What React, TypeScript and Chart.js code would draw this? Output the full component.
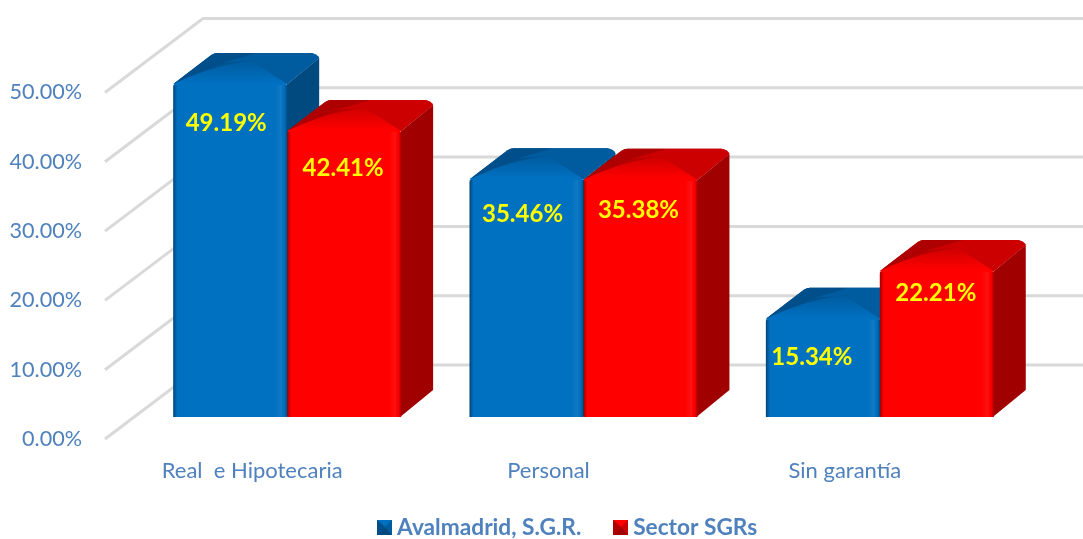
import React, { useEffect, useRef } from "react";
import { Chart, registerables } from "chart.js";

Chart.register(...registerables);

const categories = ["Real  e Hipotecaria", "Personal", "Sin garantía"];
const seriesNames = ["Avalmadrid, S.G.R.", "Sector SGRs"];
const avalmadrid = [49.19, 35.46, 15.34];
const sector = [42.41, 35.38, 22.21];

const FONT = "Lato, 'Noto Sans', sans-serif";
const TEXT = "#4f81bd";

const palettes = [
  { front: "#0070c0", side: "#004a80", left: "#004e8a", back: "#00528f", right: "#005c9f", tip: "#005c9f" },
  { front: "#ff0000", side: "#a00000", left: "#ae0000", back: "#b80000", right: "#cc0000", tip: "#cf0000" },
];

// placement tweaks for the value labels, relative to each bar's top
const labelNudgeX = [[-4, -4, -11], [-1, -2, -1]];
const labelNudgeY = [[40, 36, 40], [38, 31, 23]];

function marker(p: (typeof palettes)[number]) {
  const c = document.createElement("canvas");
  c.width = 15;
  c.height = 15;
  const g = c.getContext("2d")!;
  const tri = (col: string, pts: number[][]) => {
    g.fillStyle = col;
    g.beginPath();
    pts.forEach(([x, y], i) => (i ? g.lineTo(x, y) : g.moveTo(x, y)));
    g.closePath();
    g.fill();
  };
  g.fillStyle = p.front;
  g.fillRect(0, 0, 15, 15);
  tri(p.right, [[15, 0], [15, 15], [8, 7]]);
  tri(p.side, [[0, 15], [15, 15], [8, 7]]);
  tri(p.left, [[0, 0], [0, 15], [8, 7]]);
  return c;
}

const DX = 32;
const DY = 27;

const depthPlugin = {
  id: "depth",
  beforeLayout(chart: any) {
    const l = chart.legend;
    if (l && !l._noRoom) {
      // the legend is placed by hand below, so it takes no room from the axes
      const fit = l.fit;
      l.fit = function () {
        fit.call(this);
        this.height = 0;
      };
      l._noRoom = true;
    }
  },
  afterLayout(chart: any) {
    const l = chart.legend;
    if (!l) return;
    l.left = 345.25;
    l.right = 345.25 + 1083;
    l.top = 478;
    l.bottom = 539;
  },
  beforeDatasetsDraw(chart: any) {
    const { ctx, scales } = chart;
    ctx.save();
    ctx.strokeStyle = "#d9d9d9";
    ctx.lineWidth = 3;
    ctx.lineJoin = "miter";
    for (const t of scales.y.ticks) {
      const p = scales.y.getPixelForValue(t.value);
      ctx.beginPath();
      ctx.moveTo(105, p + 15);
      ctx.lineTo(203, p - 59);
      ctx.lineTo(1083, p - 59);
      ctx.stroke();
    }
    const bars: any[] = [];
    chart.data.datasets.forEach((_: any, d: number) => {
      chart.getDatasetMeta(d).data.forEach((el: any) => bars.push({ el, p: palettes[d] }));
    });
    bars.sort((a, b) => a.el.x - b.el.x);
    for (const { el, p } of bars) {
      const x0 = el.x - el.width / 2;
      const x1 = el.x + el.width / 2;
      const y = el.y;
      const b = el.base;
      // side face
      ctx.fillStyle = p.side;
      ctx.beginPath();
      ctx.moveTo(x1 - 1, y + 2);
      ctx.lineTo(x1 + DX, y - DY + 2);
      ctx.lineTo(x1 + DX, b - DY);
      ctx.lineTo(x1 - 1, b);
      ctx.closePath();
      ctx.fill();
      // top face with its peaked bevel
      ctx.save();
      ctx.beginPath();
      ctx.moveTo(x0, y + 1);
      ctx.lineTo(x0 + 38, y - 28);
      ctx.quadraticCurveTo(x0 + 41, y - 30, x0 + 44, y - 30);
      ctx.lineTo(x1 + 24, y - 30);
      ctx.quadraticCurveTo(x1 + 30, y - 29, x1 + DX, y - 25);
      ctx.lineTo(x1, y + 1);
      ctx.closePath();
      ctx.clip();
      ctx.fillStyle = p.back;
      ctx.fillRect(x0 - 2, y - 32, el.width + DX + 4, 36);
      const ax = x0 + 0.69 * el.width;
      const ay = y - 22;
      ctx.fillStyle = p.left;
      ctx.beginPath();
      ctx.moveTo(x0, y + 1);
      ctx.lineTo(x0 + 40, y - 32);
      ctx.lineTo(x0 + 90, y - 32);
      ctx.lineTo(ax - 30, y - 20);
      ctx.closePath();
      ctx.fill();
      ctx.fillStyle = p.right;
      ctx.beginPath();
      ctx.moveTo(ax - 30, y - 20);
      ctx.lineTo(x0 + 90, y - 32);
      ctx.lineTo(x1 + DX + 1, y - 31);
      ctx.lineTo(x1 + DX + 1, y - 20);
      ctx.lineTo(x1, y + 2);
      ctx.lineTo(ax, ay);
      ctx.closePath();
      ctx.fill();
      const g = ctx.createLinearGradient(0, ay, 0, y);
      g.addColorStop(0, p.tip);
      g.addColorStop(1, p.front);
      ctx.fillStyle = g;
      ctx.beginPath();
      ctx.moveTo(x0, y + 1);
      ctx.quadraticCurveTo(x0 + 42, ay + 3, ax, ay);
      ctx.lineTo(x1, y + 1);
      ctx.closePath();
      ctx.fill();
      ctx.restore();
    }
    ctx.restore();
  },
  afterDatasetsDraw(chart: any) {
    const { ctx } = chart;
    ctx.save();
    chart.data.datasets.forEach((ds: any, d: number) => {
      chart.getDatasetMeta(d).data.forEach((el: any, i: number) => {
        const x0 = el.x - el.width / 2;
        const x1 = el.x + el.width / 2;
        const h = el.base - el.y;
        const g = ctx.createLinearGradient(x0, 0, x1, 0);
        const w = el.width;
        g.addColorStop(0, "rgba(0,0,0,0.38)");
        g.addColorStop(4 / w, "rgba(0,0,0,0)");
        g.addColorStop((w - 12) / w, "rgba(255,255,255,0)");
        g.addColorStop((w - 6) / w, "rgba(255,255,255,0.07)");
        g.addColorStop((w - 3) / w, "rgba(0,0,0,0)");
        g.addColorStop(1, "rgba(0,0,0,0.3)");
        ctx.fillStyle = g;
        ctx.fillRect(x0, el.y + 2, w, h - 2);
        ctx.font = `bold 24px ${FONT}`;
        ctx.fillStyle = "#ffff00";
        ctx.textAlign = "center";
        ctx.textBaseline = "middle";
        ctx.fillText(
          `${ds.data[i].toFixed(2)}%`,
          el.x + labelNudgeX[d][i],
          el.y + labelNudgeY[d][i]
        );
      });
    });
    ctx.restore();
  },
};

export default function App() {
  const ref = useRef<HTMLCanvasElement>(null);
  useEffect(() => {
    const values = [avalmadrid, sector];
    const chart = new Chart(ref.current!, {
      type: "bar",
      data: {
        labels: categories,
        datasets: seriesNames.map((label, d) => ({
          label,
          data: values[d],
          backgroundColor: palettes[d].front,
          base: 1,
          borderWidth: 0,
          borderRadius: { topLeft: 4, topRight: 4, bottomLeft: 0, bottomRight: 0 },
          borderSkipped: false,
          categoryPercentage: 0.769,
          barPercentage: 1,
        })),
      },
      options: {
        responsive: false,
        animation: false,
        layout: { padding: { top: 77.5, right: 55, left: 0, bottom: 0 } },
        scales: {
          y: {
            min: 0,
            max: 50,
            afterFit: (s: any) => {
              s.width = 139;
            },
            grid: { display: false, drawTicks: false },
            border: { display: false },
            ticks: {
              stepSize: 10,
              padding: 57,
              labelOffset: 15,
              color: TEXT,
              font: { family: FONT, size: 21.6 },
              callback: (v: any) => `${Number(v).toFixed(2)}%`,
            },
          },
          x: {
            afterFit: (s: any) => {
              s.height = 115;
            },
            grid: { display: false, drawTicks: false },
            border: { display: false },
            ticks: {
              padding: 34,
              labelOffset: -35,
              maxRotation: 0,
              autoSkip: false,
              color: TEXT,
              font: { family: FONT, size: 22 },
            },
          },
        },
        plugins: {
          tooltip: { enabled: false },
          legend: {
            position: "bottom",
            align: "start",
            labels: {
              usePointStyle: true,
              pointStyleWidth: 2.5,
              padding: 38,
              color: TEXT,
              font: { family: FONT, size: 22.7, weight: "bold" },
              generateLabels: () =>
                seriesNames.map((text, d) => ({
                  text,
                  fontColor: TEXT,
                  fillStyle: palettes[d].front,
                  strokeStyle: palettes[d].front,
                  lineWidth: 0,
                  pointStyle: marker(palettes[d]),
                  datasetIndex: d,
                })),
            },
          },
        },
      },
      plugins: [depthPlugin],
    } as any);
    return () => chart.destroy();
  }, []);
  return (
    <canvas
      ref={ref}
      width={1083}
      height={539}
      style={{ position: "absolute", left: 0, top: 0, display: "block" }}
    />
  );
}
